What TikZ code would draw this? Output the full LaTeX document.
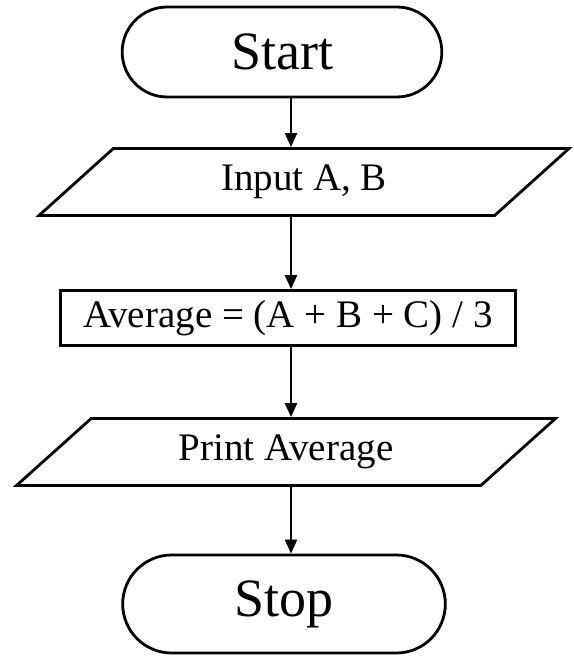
\documentclass[tikz,border=0pt]{standalone}
\usepackage{fontspec}
\setmainfont{Liberation Serif}
\usetikzlibrary{shapes.geometric,shapes.misc,arrows.meta}

\begin{document}
\begin{tikzpicture}[-,>={Triangle[length=7pt,width=6pt]},line width=1.1pt,node distance=67pt,
    term node/.style={rounded rectangle,draw,line width=1.4pt,minimum width=166.5pt,minimum height=45pt,font=\fontsize{27}{32}\selectfont},
    io node/.style={trapezium,trapezium left angle=32.5,trapezium right angle=147.5,trapezium stretches body,draw,line width=1.4pt,minimum width=265pt,minimum height=33.5pt,font=\fontsize{19.5}{23}\selectfont},
    proc node/.style={rectangle,draw,line width=1.4pt,minimum width=227.5pt,minimum height=27.5pt,font=\fontsize{19.5}{23}\selectfont}]
            \useasboundingbox (0,0) rectangle (286.5pt,-328.5pt);

            \node[term node] (start) at (141pt,-26pt) {Start};
            \node[io node] (input) [below of = start, xshift=11pt, yshift=2pt] {Input A, B};
            \node[proc node] (proc) [below of = input, xshift=-8pt, yshift=-1pt] {Average = (A + B + C) / 3};
            \node[io node] (print) [below of = proc, xshift=-1pt, minimum width=269.5pt] {Print Average};
            \node[term node] (stop) [below of = print, xshift=-1pt, yshift=-9pt, minimum width=168pt, minimum height=49pt] {Stop};

            \coordinate (spine) at (145.5pt,0);

            \foreach \a/\b in {start/input,input/proc,proc/print,print/stop}
                \draw[->] (\a.south -| spine) -- (\b.north -| spine);
        \end{tikzpicture}
\end{document}
